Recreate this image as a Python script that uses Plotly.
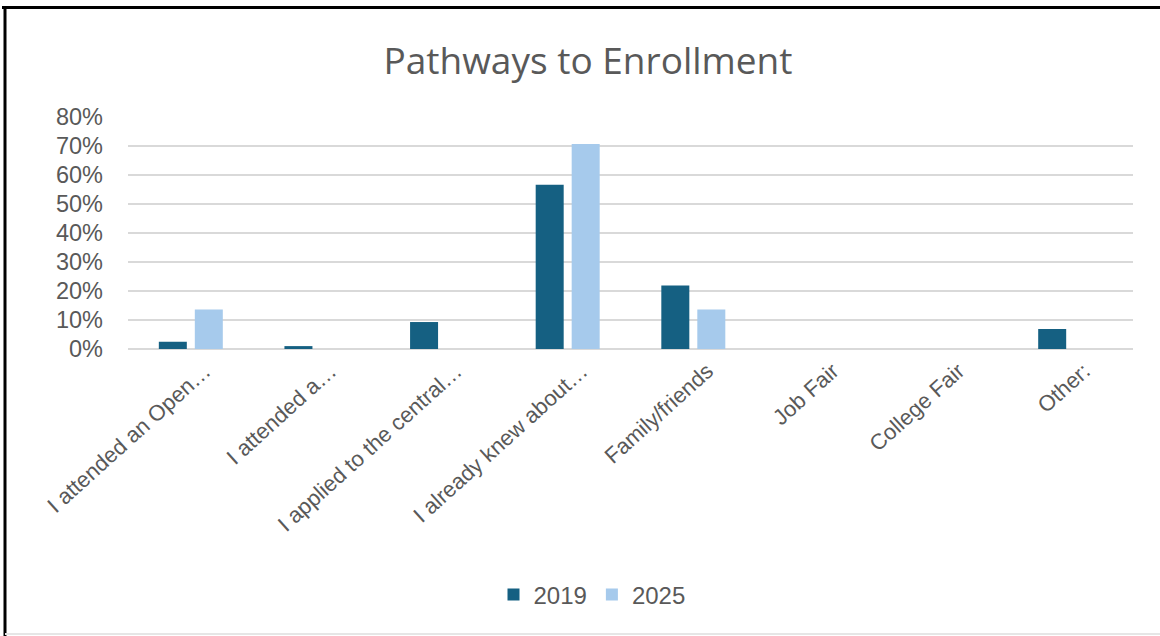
import plotly.graph_objects as go

categories = ["I attended an Open…", "I attended a…", "I applied to the central…",
              "I already knew about…", "Family/friends", "Job Fair", "College Fair", "Other:"]
values_2019 = [0.025, 0.01, 0.093, 0.566, 0.219, 0.0, 0.0, 0.069]
values_2025 = [0.136, 0.0, 0.0, 0.707, 0.136, 0.0, 0.0, 0.0]
y_ticks = [0, 0.1, 0.2, 0.3, 0.4, 0.5, 0.6, 0.7, 0.8]

W, H = 1160, 636
L, R, T, B = 128, 1133, 117, 349
pw, ph = R - L, B - T

def px(x):
    return (x - L) / pw

def py(y):
    return (B - y) / ph

fig = go.Figure()
fig.add_trace(go.Bar(name="2019", x=categories, y=values_2019, marker_color="#156082",
                     marker_line_width=0))
fig.add_trace(go.Bar(name="2025", x=categories, y=values_2025, marker_color="#A6CAEC",
                     marker_line_width=0))

text_color = "#595959"
fig.update_layout(
    width=W, height=H,
    margin=dict(l=L, r=W - R, t=T, b=H - B, autoexpand=False),
    paper_bgcolor="white", plot_bgcolor="white",
    barmode="group", bargap=0.427, bargroupgap=0.222,
    title=dict(text="Pathways to Enrollment", x=588 / W, xanchor="center", xref="container",
               y=1 - 61 / H, yanchor="middle", yref="container",
               font=dict(family="Open Sans", size=37, color=text_color)),
    font=dict(family="Liberation Sans, Arial", color=text_color),
    legend=dict(orientation="h", x=px(592), xanchor="center", y=py(595), yanchor="middle",
                font=dict(size=24, color=text_color), itemwidth=30, traceorder="normal"),
    showlegend=True,
)
fig.update_xaxes(showline=False, showgrid=False, tickangle=-42, ticks="",
                 ticklabelshift=14, ticklabelstandoff=4,
                 tickfont=dict(size=22, color=text_color), automargin=False)
fig.update_yaxes(range=[0, 0.8], tickvals=y_ticks, tickformat=".0%", showgrid=True,
                 gridcolor="#D9D9D9", gridwidth=1.5, zeroline=True, zerolinecolor="#D9D9D9",
                 zerolinewidth=1.5, showline=False, ticks="", ticklabelstandoff=24,
                 tickfont=dict(size=23.5, color=text_color), automargin=False)

# chart frame
fig.add_shape(type="line", xref="paper", yref="paper", x0=px(2), x1=px(1160), y0=py(7.5), y1=py(7.5),
              line=dict(color="black", width=3))
fig.add_shape(type="line", xref="paper", yref="paper", x0=px(5), x1=px(5), y0=py(6), y1=py(640),
              line=dict(color="black", width=3))
fig.add_shape(type="line", xref="paper", yref="paper", x0=px(5), x1=px(1160), y0=py(634), y1=py(634),
              line=dict(color="#E6E6E6", width=2))

fig.write_html("out.html")
